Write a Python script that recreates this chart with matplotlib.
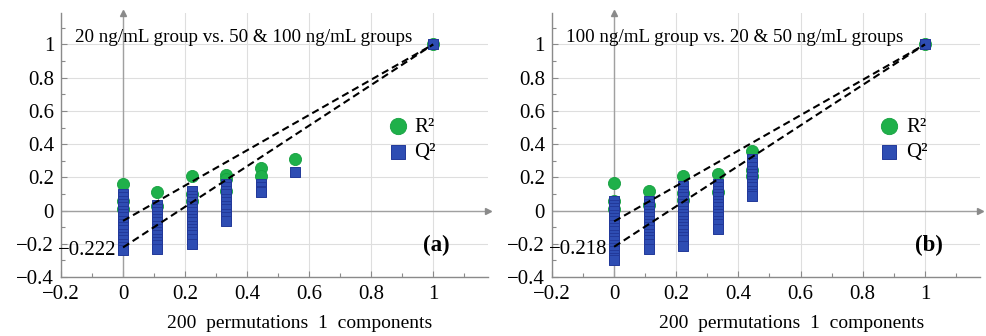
import matplotlib
matplotlib.use("Agg")
import matplotlib.pyplot as plt
from matplotlib.ticker import MultipleLocator, FuncFormatter

plt.rcParams['font.family'] = ['Liberation Serif', 'DejaVu Serif']

# ---------------- data ----------------
perm_x_a = [0.0, 0.111, 0.222, 0.333, 0.444, 0.556, 1.0]
r2_a = [
    [0.158, 0.055, 0.008],
    [0.112, 0.03],
    [0.207, 0.10, 0.06],
    [0.213, 0.19, 0.12],
    [0.259, 0.21],
    [0.313],
    [1.0],
]
q2_a = [
    [0.10, 0.08, 0.06, 0.04, 0.02, 0.0, -0.02, -0.04, -0.06, -0.08, -0.10,
     -0.12, -0.14, -0.16, -0.18, -0.20, -0.22, -0.24],
    [0.035, 0.01, -0.01, -0.03, -0.05, -0.07, -0.09, -0.11, -0.13, -0.15,
     -0.17, -0.19, -0.21, -0.23],
    [0.115, 0.09, 0.07, 0.05, 0.03, 0.01, -0.01, -0.03, -0.05, -0.07, -0.09,
     -0.11, -0.13, -0.15, -0.17, -0.20],
    [0.16, 0.14, 0.12, 0.10, 0.07, 0.05, 0.03, 0.01, -0.02, -0.04, -0.06],
    [0.16, 0.14, 0.12, 0.11],
    [0.232],
    [1.0],
]
r2_intercept_a = -0.062
q2_intercept_a = -0.222

perm_x_b = [0.0, 0.111, 0.222, 0.333, 0.444, 1.0]
r2_b = [
    [0.164, 0.058, 0.01],
    [0.118, 0.034],
    [0.21, 0.105, 0.064],
    [0.219, 0.114],
    [0.358, 0.247, 0.21],
    [1.0],
]
q2_b = [
    [0.055, 0.035, 0.015, -0.005, -0.025, -0.045, -0.065, -0.085, -0.105,
     -0.125, -0.145, -0.165, -0.185, -0.205, -0.225, -0.245, -0.265, -0.285, -0.30],
    [0.06, 0.04, 0.02, 0.0, -0.02, -0.04, -0.06, -0.08, -0.10, -0.12, -0.14,
     -0.16, -0.18, -0.20, -0.23],
    [0.145, 0.12, 0.10, 0.08, 0.06, 0.04, 0.02, 0.0, -0.02, -0.04, -0.06,
     -0.08, -0.10, -0.12, -0.14, -0.16, -0.18, -0.215],
    [0.16, 0.14, 0.12, 0.10, 0.08, 0.06, 0.04, 0.02, 0.0, -0.02, -0.04,
     -0.06, -0.08, -0.11],
    [0.31, 0.285, 0.26, 0.24, 0.22, 0.20, 0.18, 0.16, 0.14, 0.12, 0.10, 0.085],
    [1.0],
]
r2_intercept_b = -0.065
q2_intercept_b = -0.218

titles = ["20 ng/mL group vs. 50 & 100 ng/mL groups",
          "100 ng/mL group vs. 20 & 50 ng/mL groups"]
panel_tags = ["(a)", "(b)"]
xlabel = "200  permutations  1  components"

GREEN = '#1fb04a'
GREEN_EDGE = '#15a040'
BLUE = '#2e4db3'
BLUE_EDGE = '#22399a'
AXIS_GRAY = '#8a8a8a'


def fmt(v, pos):
    s = ('%g' % round(v, 3))
    return s.replace('-', '\u2212')


fig = plt.figure(figsize=(9.86, 3.36), dpi=100)
ax_a = fig.add_axes([0.0619, 0.1756, 0.433, 0.786])
ax_b = fig.add_axes([0.5598, 0.1756, 0.434, 0.786])

panels = [
    (ax_a, perm_x_a, r2_a, q2_a, r2_intercept_a, q2_intercept_a),
    (ax_b, perm_x_b, r2_b, q2_b, r2_intercept_b, q2_intercept_b),
]

for i, (ax, px, r2, q2, r2i, q2i) in enumerate(panels):
    ax.set_xlim(-0.2, 1.177)
    ax.set_ylim(-0.4, 1.19)
    ax.xaxis.set_minor_locator(MultipleLocator(0.1))
    ax.yaxis.set_minor_locator(MultipleLocator(0.1))
    ax.set_xticks([-0.2, 0, 0.2, 0.4, 0.6, 0.8, 1.0])
    ax.set_yticks([-0.4, -0.2, 0, 0.2, 0.4, 0.6, 0.8, 1.0])
    ax.xaxis.set_major_formatter(FuncFormatter(fmt))
    ax.yaxis.set_major_formatter(FuncFormatter(fmt))
    ax.tick_params(which='both', direction='in', colors=AXIS_GRAY,
                   labelcolor='black', labelsize=15)
    ax.tick_params(which='major', length=4, width=0.8)
    ax.tick_params(which='minor', length=3, width=0.8)
    ax.tick_params(axis='x', pad=6)
    ax.tick_params(axis='y', pad=5)
    for s in ['top', 'right']:
        ax.spines[s].set_visible(False)
    for s in ['left', 'bottom']:
        ax.spines[s].set_color(AXIS_GRAY)
        ax.spines[s].set_linewidth(1.0)
    # arrows
    ax.plot(1, 0, '>', color=AXIS_GRAY, markersize=5,
            transform=ax.get_yaxis_transform(), clip_on=False)
    ax.plot(0, 1, '^', color=AXIS_GRAY, markersize=5,
            transform=ax.get_xaxis_transform(), clip_on=False)
    ax.grid(True, which='major', color='#dedede', linewidth=0.8)
    ax.set_axisbelow(True)
    ax.axhline(0, color='#a0a0a0', linewidth=1.0, zorder=1)
    ax.axvline(0, color='#a0a0a0', linewidth=1.0, zorder=1)

    # points
    rx, ry, qx, qy = [], [], [], []
    for xv, vals in zip(px, r2):
        rx += [xv] * len(vals)
        ry += vals
    for xv, vals in zip(px, q2):
        qx += [xv] * len(vals)
        qy += vals
    hr = ax.scatter(rx, ry, s=76, marker='o', color=GREEN,
                    edgecolors=GREEN_EDGE, linewidths=0.6, zorder=3,
                    label='R\u00b2')
    hq = ax.scatter(qx, qy, s=54, marker='s', color=BLUE,
                    edgecolors=BLUE_EDGE, linewidths=0.7, zorder=4,
                    label='Q\u00b2')

    # regression lines
    ax.plot([0, 1], [r2i, 1], linestyle=(0, (3.5, 2)), color='black',
            linewidth=1.5, zorder=5)
    ax.plot([0, 1], [q2i, 1], linestyle=(0, (3.5, 2)), color='black',
            linewidth=1.5, zorder=5)

    ax.text(-0.02, q2i - 0.018, fmt(q2i, None), ha='right', va='center',
            fontsize=15, zorder=6)

    ax.text(0.033, 0.905, titles[i], transform=ax.transAxes, ha='left',
            va='center', fontsize=13.7)
    ax.text(0.88, 0.12, panel_tags[i], transform=ax.transAxes, ha='center',
            va='center', fontsize=16.5, fontweight='bold')
    ax.text(0.56, -0.176, xlabel, transform=ax.transAxes, ha='center',
            va='center', fontsize=14)

    leg = ax.legend(handles=[hr, hq], loc='upper left',
                    bbox_to_anchor=(0.74, 0.645), frameon=False,
                    markerscale=1.35, handlelength=1.0, handletextpad=0.3,
                    labelspacing=0.3, fontsize=15, borderpad=0)

fig.savefig('out.png', dpi=100)
